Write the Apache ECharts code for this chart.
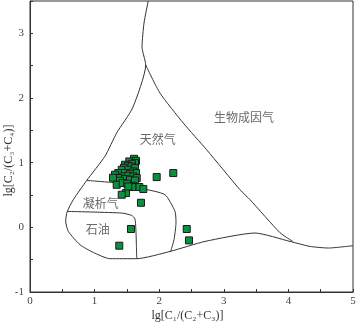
<!DOCTYPE html>
<html><head><meta charset="utf-8">
<script src="https://cdn.jsdelivr.net/npm/echarts@6/dist/echarts.min.js"></script>
<style>html,body{margin:0;padding:0;background:#fff}#c{width:358px;height:324px}</style>
</head><body><div id="c"></div>
<script>
// Boundary curves [x, y]
var curveOuter = [[1.83,3.5],[1.765,3.16],[1.734,2.79],[1.791,2.51],[1.59,1.85],[1.342,1.46],[1.161,1.10],[0.878,0.725],[0.67,0.427],[0.577,0.246],[0.552,0.102],[0.593,-0.063],[0.774,-0.269],[0.98,-0.388],[1.238,-0.485],[1.652,-0.485],[2.167,-0.373],[2.709,-0.218],[3.483,-0.088],[4.025,-0.218],[4.334,-0.295],[4.618,-0.32],[5.0,-0.284]];
var curveBio = [[1.791,2.51],[2.012,2.076],[2.373,1.612],[2.735,1.199],[3.251,0.581],[3.406,0.427],[3.87,-0.083],[4.071,-0.22]];
var curveCondensate = [[0.878,0.725],[1.342,0.685],[1.749,0.597],[2.09,0.504],[2.245,0.246],[2.26,0.071],[2.229,-0.192],[2.178,-0.372]];
var curveOil = [[0.577,0.246],[1.42,0.221],[1.574,0.184],[1.625,0.128],[1.641,-0.083],[1.652,-0.485]];
// Samples
var sampleX = [1.610,1.537,1.641,1.625,1.579,1.471,1.517,1.574,1.625,1.455,1.420,1.522,1.600,1.641,1.367,1.471,1.548,1.316,1.420,1.522,1.600,1.652,1.367,1.471,1.548,1.625,1.285,1.393,1.342,1.435,1.506,1.600,1.692,1.754,1.486,1.420,1.584,1.522,1.961,2.218,1.718,1.563,1.382,2.426,2.461];
var sampleY = [1.060,1.019,1.029,0.994,0.983,0.968,0.952,0.941,0.917,0.921,0.890,0.890,0.864,0.839,0.839,0.839,0.828,0.813,0.787,0.798,0.787,0.762,0.762,0.747,0.736,0.725,0.767,0.720,0.658,0.685,0.674,0.643,0.623,0.592,0.530,0.504,0.623,0.632,0.777,0.839,0.380,-0.026,-0.284,-0.026,-0.202];
// Region labels
var regionNames = ['天然气','生物成因气','凝析气','石油'];
var regionX = [1.977,3.313,1.096,1.050];
var regionY = [1.365,1.694,0.376,-0.037];
var xTicks = [0,1,2,3,4,5];
var yTicks = [-1,0,1,2,3];

var samples = sampleX.map(function(x,i){return [x,sampleY[i]];});
var regions = regionNames.map(function(n,i){return {name:n,value:[regionX[i],regionY[i]]};});
var serif = 'Liberation Serif';
function lineSeries(d){return {type:'line',data:d,showSymbol:false,symbol:'none',silent:true,lineStyle:{color:'#333',width:1},smooth:0.2,z:2};}
var chart = echarts.init(document.getElementById('c'),null,{renderer:'canvas'});
chart.setOption({
  animation:false,
  grid:{left:30,right:5,top:1,bottom:32,show:true,borderColor:'#333',borderWidth:1,containLabel:false,outerBoundsMode:'none'},
  xAxis:{type:'value',min:0,max:5,interval:0.5,
    name:'lg[C₁/(C₂+C₃)]',nameLocation:'middle',nameGap:18,nameMoveOverlap:false,
    nameTextStyle:{fontFamily:serif,fontSize:12,color:'#333',padding:[0,8,0,0]},
    axisLine:{onZero:false,lineStyle:{color:'#333'}},
    axisTick:{inside:true,length:3,lineStyle:{color:'#333'}},
    axisLabel:{fontFamily:serif,fontSize:11,color:'#444',margin:4,formatter:function(v){return xTicks.indexOf(v)>=0?String(v):'';}},
    splitLine:{show:false}},
  yAxis:{type:'value',min:-1,max:3.5,interval:0.5,
    name:'lg[C₂/(C₃+C₄)]',nameLocation:'middle',nameGap:15,nameRotate:90,nameMoveOverlap:false,
    nameTextStyle:{fontFamily:serif,fontSize:12,color:'#333',padding:[0,28,0,0]},
    axisLine:{onZero:false,lineStyle:{color:'#333'}},
    axisTick:{inside:true,length:3,lineStyle:{color:'#333'}},
    axisLabel:{fontFamily:serif,fontSize:11,color:'#444',margin:6,formatter:function(v){return yTicks.indexOf(v)>=0?String(v):'';}},
    splitLine:{show:false}},
  series:[
    lineSeries(curveOuter),lineSeries(curveBio),lineSeries(curveCondensate),lineSeries(curveOil),
    {type:'scatter',data:samples,symbol:'rect',symbolSize:7,z:5,
      itemStyle:{color:'#0b9040',borderColor:'#1a1a1a',borderWidth:1,opacity:1}},
    {type:'scatter',data:regions,symbolSize:0,z:6,silent:true,
      label:{show:true,position:'inside',formatter:'{b}',fontFamily:'Noto Sans CJK SC',fontSize:12,color:'#444'}}
  ]
});
</script></body></html>
